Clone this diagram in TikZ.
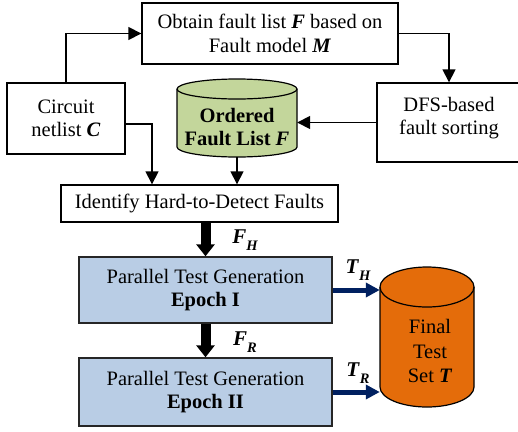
\documentclass[tikz,border=0pt]{standalone}
\usepackage{fontspec}
\setmainfont{Liberation Serif}
\usetikzlibrary{arrows.meta,calc}
\definecolor{boxblue}{RGB}{185,205,229}
\definecolor{dbgreen}{RGB}{195,214,155}
\definecolor{dborange}{RGB}{228,108,10}
\definecolor{navyarrow}{RGB}{0,32,96}
\newcommand\bif[1]{\textbf{\textit{#1}}}
\newcommand\subsym[1]{\raisebox{-0.3em}{\fontsize{14.5}{14.5}\selectfont\bfseries\itshape #1}}
\begin{document}
\begin{tikzpicture}[x=1pt,y=-1pt,
  every node/.style={font=\fontsize{20.5}{23.5}\selectfont, inner sep=0pt},
  procbox/.style={draw=black, line width=1.4pt, fill=white, align=center},
  epochbox/.style={draw=black!85, line width=1.4pt, fill=boxblue, align=center},
  thinarrow/.style={line width=1.6pt, -{Triangle[length=13pt,width=13pt]}},
  blockarrow/.style={line width=10pt, -{Triangle[length=12pt,width=18pt]}},
  navyarw/.style={draw=navyarrow, line width=5pt, -{Triangle[length=14pt,width=14pt]}},
  dblabel/.style={align=center},
  flowlabel/.style={font=\fontsize{21}{21}\selectfont}
]
\useasboundingbox (0,0) rectangle (518,431);

% process boxes
\node[procbox, minimum width=256pt, minimum height=61pt] (obtain) at (270,33.5)
  {Obtain fault list \bif{F} based on\\Fault model \bif{M}};
\node[procbox, minimum width=118pt, minimum height=71pt] (circ) at (66,118.5)
  {Circuit\\netlist \bif{C}};
\node[procbox, minimum width=144pt, minimum height=79pt] (dfs) at (449,122.5) {};
\node[align=center] (dfstext) at (449,118) {DFS-based\\fault sorting};
\node[procbox, minimum width=277pt, minimum height=37pt] (ident) at (199.5,203.5)
  {Identify Hard-to-Detect Faults};
\node[epochbox, minimum width=253pt, minimum height=66pt] (ep1) at (205.5,290)
  {Parallel Test Generation\\\textbf{Epoch I}};
\node[epochbox, minimum width=253pt, minimum height=68pt] (ep2) at (205.5,392)
  {Parallel Test Generation\\\textbf{Epoch II}};

% ordered fault list (cylinder)
\node[minimum width=120pt, minimum height=78pt] (ofl) at (237,118) {};
\draw[line width=1.2pt, fill=dbgreen] (177,89) -- (177,147)
  arc[start angle=180, end angle=360, x radius=60pt, y radius=10pt]
  -- (297,89) arc[start angle=0, end angle=180, x radius=60pt, y radius=10pt] -- cycle;
\draw[line width=1.2pt] (177,89) arc[start angle=180, end angle=360, x radius=60pt, y radius=10pt];
\node[dblabel] (ofltext) at (237,127) {\textbf{Ordered}\\\textbf{Fault List \textit{F}}};

% final test set (cylinder)
\node[minimum width=94pt, minimum height=140pt] (fts) at (427,337) {};
\draw[line width=1.2pt, fill=dborange] (380,287) -- (380,387)
  arc[start angle=180, end angle=360, x radius=47pt, y radius=20pt]
  -- (474,287) arc[start angle=0, end angle=180, x radius=47pt, y radius=20pt] -- cycle;
\draw[line width=1.2pt] (380,287) arc[start angle=180, end angle=360, x radius=47pt, y radius=20pt];
\node[dblabel, font=\fontsize{20.5}{24.5}\selectfont] (ftstext) at (430,351) {Final\\Test\\Set \bif{T}};

% connectors
\draw[thinarrow] (circ.north) |- (obtain.west);
\draw[thinarrow] (obtain.east) -| (dfs.north);
\draw[thinarrow] (dfs.west) -- (ofl.east |- dfs.west);
\draw[thinarrow] ([yshift=-5.5pt]circ.east) -| ([xshift=-47.5pt]ident.north);
\draw[thinarrow] (ofl.south) -- (ofl.south |- ident.north);
\draw[blockarrow] (ep1.north |- ident.south) -- (ep1.north);
\draw[blockarrow] (ep1.south) -- (ep2.north);
\draw[navyarw] (ep1.east) -- (ep1.east -| fts.west);
\draw[navyarw] (ep2.east) -- (ep2.east -| fts.west);

% flow labels
\node[flowlabel] (lfh) at (245,240) {\bif{F}\subsym{H}};
\node[flowlabel] (lfr) at (245,342) {\bif{F}\subsym{R}};
\node[flowlabel] (lth) at (358,270) {\bif{T}\subsym{H}};
\node[flowlabel] (ltr) at (358,373) {\bif{T}\subsym{R}};
\end{tikzpicture}
\end{document}
